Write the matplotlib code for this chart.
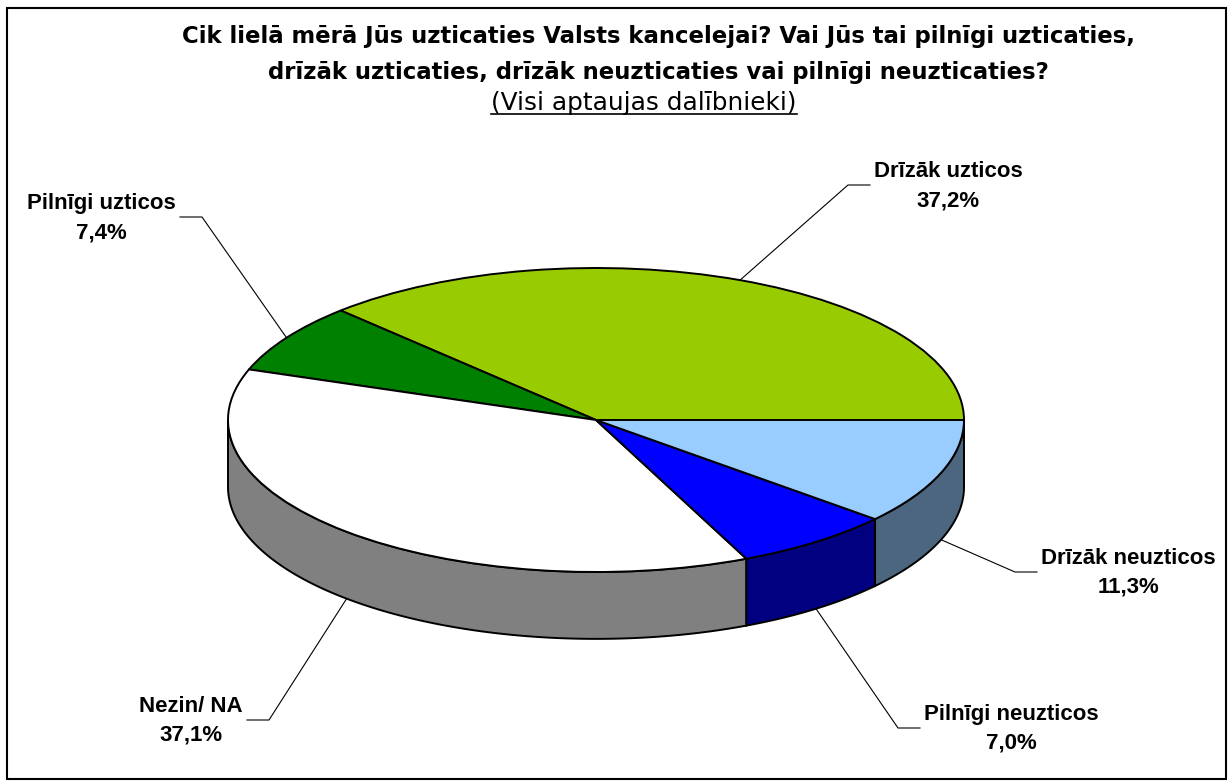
import numpy as np
import matplotlib
matplotlib.use("Agg")
import matplotlib.pyplot as plt
from matplotlib.lines import Line2D
from matplotlib.patches import Rectangle
from matplotlib.transforms import IdentityTransform

# data (counter-clockwise from 3 o'clock)
categories = ["Drīzāk uzticos", "Pilnīgi uzticos", "Nezin/ NA",
              "Pilnīgi neuzticos", "Drīzāk neuzticos"]
values = [37.2, 7.4, 37.1, 7.0, 11.3]
value_labels = ["37,2%", "7,4%", "37,1%", "7,0%", "11,3%"]
top_colors = ["#99CC00", "#008000", "#FFFFFF", "#0000FF", "#99CCFF"]

title1 = "Cik lielā mērā Jūs uzticaties Valsts kancelejai? Vai Jūs tai pilnīgi uzticaties,"
title2 = "drīzāk uzticaties, drīzāk neuzticaties vai pilnīgi neuzticaties?"
title3 = "(Visi aptaujas dalībnieki)"

# layout (pixels)
W, H = 1229, 783
CX, CY, RX, RY = 596, 420, 368, 152
DEPTH = 0.44
# outer end of each leader line, text side
label_ends = [(870, 185), (180, 217), (247, 720), (920, 728), (1037, 572)]
label_side = ["left", "right", "right", "left", "left"]


def px(x, y):
    return (x - CX) / RX, (CY - y) / RY


fig = plt.figure(figsize=(W / 100, H / 100), dpi=100)
ax = fig.add_axes([0, 0, 1, 1])

# side walls
angles = np.concatenate([[0], np.cumsum(values)]) / sum(values) * 360
for i in range(len(values)):
    lo, hi = max(angles[i], 180), min(angles[i + 1], 360)
    if lo >= hi:
        continue
    t = np.radians(np.linspace(lo, hi, 120))
    xs = np.concatenate([np.cos(t), np.cos(t[::-1])])
    ys = np.concatenate([np.sin(t), np.sin(t[::-1]) - DEPTH])
    c = np.array(matplotlib.colors.to_rgb(top_colors[i])) * 0.5
    ax.fill(xs, ys, facecolor=c, edgecolor="black", lw=1.4, zorder=1)

# top face
wedges, _ = ax.pie(values, colors=top_colors, startangle=0, counterclock=True,
                   radius=1, wedgeprops=dict(edgecolor="black", linewidth=1.4))
for w in wedges:
    w.set_zorder(2)

ax.set_aspect("auto")
ax.set_position([0, 0, 1, 1])
ax.set_xlim(px(0, 0)[0], px(W, 0)[0])
ax.set_ylim(px(0, H)[1], px(0, 0)[1])
ax.set_axis_off()

# labels + leader lines
for i in range(len(values)):
    m = np.radians((angles[i] + angles[i + 1]) / 2)
    ax_, ay_ = np.cos(m), np.sin(m)
    if ay_ < 0:
        ay_ -= DEPTH
    ex, ey = label_ends[i]
    if label_side[i] == "left":
        elbow = px(ex - 22, ey)
        tx = ex + 4
    else:
        elbow = px(ex + 22, ey)
        tx = ex - 4
    end = px(ex, ey)
    ax.plot([ax_, elbow[0], end[0]], [ay_, elbow[1], end[1]],
            color="black", lw=0.8, zorder=3)
    tpos = px(tx, ey + 1)
    ax.text(tpos[0], tpos[1], categories[i] + "\n" + value_labels[i],
            ha=label_side[i], va="center", multialignment="center",
            family="Liberation Sans", fontweight="bold", fontsize=16,
            linespacing=1.5, zorder=4)

# title
t1 = ax.text(*px(658, 37), title1, ha="center", va="center",
             family="DejaVu Sans", fontweight="bold", fontsize=16.4)
t2 = ax.text(*px(658, 72), title2, ha="center", va="center",
             family="DejaVu Sans", fontweight="bold", fontsize=16.4)
t3 = ax.text(*px(644, 103), title3, ha="center", va="center",
             family="DejaVu Sans", fontsize=17.8)

# border
x0, y0 = px(7, 779)
x1, y1 = px(1226, 8)
ax.add_patch(Rectangle((x0, y0), x1 - x0, y1 - y0, fill=False,
                       edgecolor="black", lw=1.5, zorder=5, clip_on=False))

# underline the subtitle
fig.canvas.draw()
bb = t3.get_window_extent()
fig.add_artist(Line2D([bb.x0, bb.x1], [bb.y0 + 1, bb.y0 + 1], color="black",
                      lw=1.2, transform=IdentityTransform()))

fig.savefig("out.png", dpi=100)
